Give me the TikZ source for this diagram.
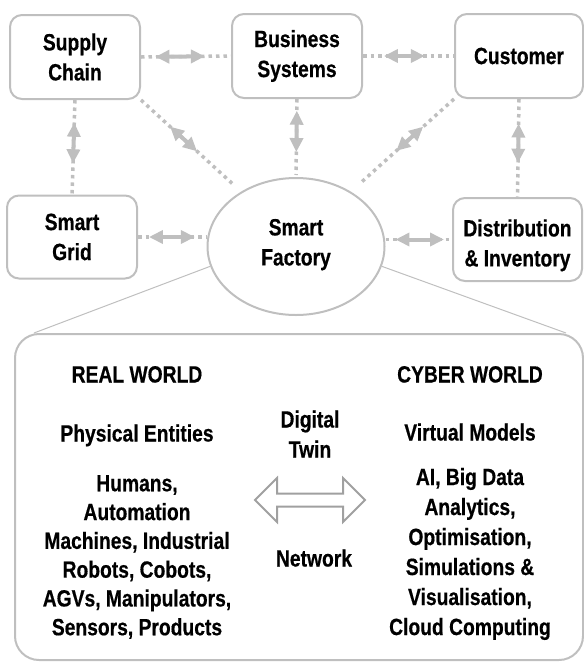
\documentclass[tikz,border=0pt]{standalone}
\usepackage{fontspec}
\setmainfont{Liberation Sans}[FakeStretch=0.82, BoldFeatures={FakeBold=0.5}]
\usetikzlibrary{calc,arrows.meta,shapes.geometric}
\definecolor{bgray}{RGB}{191,191,191}
\definecolor{agray}{RGB}{160,160,160}
\begin{document}
\begin{tikzpicture}[x=1pt,y=-1pt,
  every node/.style={font=\fontsize{23.5}{30}\selectfont\bfseries, text=black, align=center, inner sep=0pt},
  one/.style={text height=17pt, text depth=0pt},
  box/.style={draw=bgray, line width=2pt, rounded corners=12pt, minimum width=130pt, minimum height=84pt},
  conn/.style={draw=bgray, line width=3.5pt, dash pattern=on 3.5pt off 4pt},
  dblarr/.style={draw=bgray, line width=4pt, {Triangle[length=14pt,width=13pt]}-{Triangle[length=14pt,width=13pt]}},
  thinline/.style={draw=bgray, line width=1pt}]
\useasboundingbox (0,0) rectangle (584,662);

% big container
\node[draw=bgray, line width=2pt, rounded corners=24pt, minimum width=568pt, minimum height=326pt] (big) at (299,497) {};

% top nodes
\node[box] (sc) at (75,57) {Supply\\Chain};
\node[box] (bs) at (297,56) {Business\\Systems};
\node[box, minimum width=128pt] (cu) at (519,56) {Customer};
\node[box, minimum height=83pt] (sg) at (72,237) {Smart\\Grid};
\node[box, minimum width=129pt, minimum height=83pt, text height=53.8pt, text depth=0pt] (di) at (517.5,239.5) {Distribution\\\& Inventory};
\node[draw=bgray, line width=2pt, ellipse, minimum width=177pt, minimum height=137pt, text height=37.8pt, text depth=0pt] (sf) at (296,246.5) {Smart\\Factory};

% dotted connectors
\draw[conn] (sc.east) -- (bs.west);
\draw[conn] (bs.east) -- (cu.west);
\draw[conn] (sc.south) -- (sg.north);
\draw[conn] (cu.south) -- (di.north);
\draw[conn, shorten >=2pt] (bs.south) -- (sf.north);
\draw[conn] (sg.east) -- (sg.east -| sf.west);
\draw[conn] (di.west -| sf.east) -- (di.west);
\draw[conn, shorten >=12pt] (sc.south east) -- (sf.135);
\draw[conn, shorten >=12pt] (cu.south west) -- (sf.45);

% double arrows
\draw[dblarr] ($(sc.east)!0.16!(bs.west)$) -- ($(sc.east)!0.71!(bs.west)$);
\draw[dblarr] ($(bs.east)!0.23!(cu.west)$) -- ($(bs.east)!0.68!(cu.west)$);
\draw[dblarr] ($(sc.south)!0.24!(sg.north)$) -- ($(sc.south)!0.67!(sg.north)$);
\draw[dblarr] ($(cu.south)!0.25!(di.north)$) -- ($(cu.south)!0.65!(di.north)$);
\draw[dblarr] ($(bs.south)!0.15!(sf.north)$) -- ($(bs.south)!0.68!(sf.north)$);
\draw[dblarr] ($(sg.east)!0.16!(sg.east -| sf.west)$) -- ($(sg.east)!0.83!(sg.east -| sf.west)$);
\draw[dblarr] ($(di.west -| sf.east)!0.15!(di.west)$) -- ($(di.west -| sf.east)!0.88!(di.west)$);
\draw[dblarr] ($(sc.south east)!0.29!(sf.135)$) -- ($(sc.south east)!0.56!(sf.135)$);
\draw[dblarr] ($(cu.south west)!0.30!(sf.45)$) -- ($(cu.south west)!0.56!(sf.45)$);

% zoom lines
\draw[thinline] (sf.193) -- ([xshift=20pt]big.north west);
\draw[thinline] (sf.-13) -- ([xshift=-18pt]big.north east);

% inner texts
\node[one] (rwt) at (137,374) {REAL WORLD};
\node[one] (pe) at (137,433) {Physical Entities};
\node[font=\fontsize{23.5}{28.8}\selectfont\bfseries] (pel) at (137,557) {Humans,\\Automation\\Machines, Industrial\\Robots, Cobots,\\AGVs, Manipulators,\\Sensors, Products};
\node[one] (cwt) at (470,374) {CYBER WORLD};
\node[one] (vm) at (470,432) {Virtual Models};
\node (vml) at (470,554) {AI, Big Data\\Analytics,\\Optimisation,\\Simulations \&\\Visualisation,\\Cloud Computing};

\node (dtt) at (310,434) {Digital\\Twin};
\node[one] (nw) at (314,558) {Network};

% digital twin arrow
\coordinate (dt) at (310,500);
\draw[agray, line width=2pt, shift={(dt)}] (-55,0) -- (-33,-22) -- (-33,-6.5) -- (33,-6.5) -- (33,-22) -- (55,0) -- (33,22) -- (33,6.5) -- (-33,6.5) -- (-33,22) -- cycle;
\end{tikzpicture}
\end{document}
